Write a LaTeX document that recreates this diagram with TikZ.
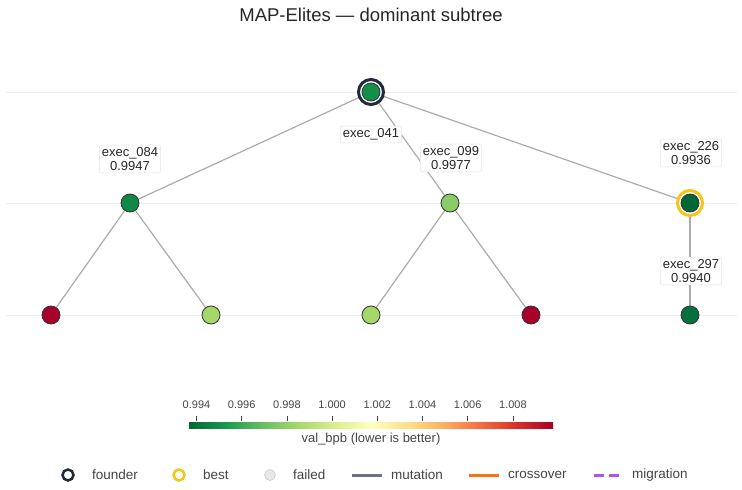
\documentclass[tikz,border=0pt]{standalone}
\usepackage{fontspec}
\setmainfont{Liberation Sans}
\definecolor{c0}{HTML}{006837}
\definecolor{c1}{HTML}{1A9850}
\definecolor{c2}{HTML}{66BD63}
\definecolor{c3}{HTML}{A6D96A}
\definecolor{c4}{HTML}{D9EF8B}
\definecolor{c5}{HTML}{FFFFBF}
\definecolor{c6}{HTML}{FEE08B}
\definecolor{c7}{HTML}{FDAE61}
\definecolor{c8}{HTML}{F46D43}
\definecolor{c9}{HTML}{D73027}
\definecolor{c10}{HTML}{A50026}
\definecolor{txt}{HTML}{444444}
\definecolor{navy}{HTML}{1E2A3A}
\definecolor{gold}{HTML}{F5C518}
\definecolor{edgec}{HTML}{ABABAB}
\definecolor{gridc}{HTML}{EEEEEE}
\definecolor{boxc}{HTML}{E3E3E3}
\definecolor{mutc}{HTML}{6B7280}
\definecolor{crossc}{HTML}{F97316}
\definecolor{migc}{HTML}{A855F7}
\definecolor{failc}{HTML}{E8E8E8}
\definecolor{nA}{HTML}{148F4A}
\definecolor{nB}{HTML}{0F8A46}
\definecolor{nC}{HTML}{8ACD66}
\definecolor{nD}{HTML}{006837}
\definecolor{nE}{HTML}{05703B}
\definecolor{nR}{HTML}{A8022A}
\definecolor{nL}{HTML}{A4D86A}
\pgfdeclarehorizontalshading{rdylgn}{100bp}{color(0bp)=(c0); color(25bp)=(c0); color(30bp)=(c1); color(35bp)=(c2); color(40bp)=(c3); color(45bp)=(c4); color(50bp)=(c5); color(55bp)=(c6); color(60bp)=(c7); color(65bp)=(c8); color(70bp)=(c9); color(75bp)=(c10); color(100bp)=(c10)}
\tikzset{
  tnode/.style={circle, draw=black!80, line width=0.8pt, minimum size=18pt, inner sep=0pt},
  ring/.style={circle, line width=3pt, minimum size=25pt, inner sep=0pt, fill=white},
  lbl/.style={draw=boxc, fill=white, rounded corners=2pt, text=black!85, font=\fontsize{13}{13.5}\selectfont, align=center, inner sep=2.5pt},
  link/.style={draw=edgec, line width=1.2pt},
  gridline/.style={draw=gridc, line width=1pt},
  legtxt/.style={text=txt, font=\fontsize{13.5}{14}\selectfont, anchor=west, inner sep=0pt},
  ticktxt/.style={text=txt, font=\fontsize{11}{12}\selectfont, inner sep=0pt}
}
\begin{document}
\begin{tikzpicture}[x=1pt,y=-1pt]
\useasboundingbox (0,0) rectangle (742,490);
% title
\node[text=black!85, font=\fontsize{18.5}{20}\selectfont] (title) at (371,15) {MAP-Elites — dominant subtree};
% grid lines
\foreach \yy in {92,203,315} \draw[gridline] (6,\yy) -- (737,\yy);
% node positions
\coordinate (p041) at (371,92);
\coordinate (p084) at (130,203);
\coordinate (p099) at (450,203);
\coordinate (p226) at (690,203);
\coordinate (l1) at (51,315);
\coordinate (l2) at (211,315);
\coordinate (l3) at (371,315);
\coordinate (l4) at (531,315);
\coordinate (p297) at (690,315);
% edges
\draw[link] (p041) -- (p084);
\draw[link] (p041) -- (p099);
\draw[link] (p041) -- (p226);
\draw[link] (p084) -- (l1);
\draw[link] (p084) -- (l2);
\draw[link] (p099) -- (l3);
\draw[link] (p099) -- (l4);
\draw[link] (p226) -- (p297);
% rings
\node[ring, draw=navy] (r041) at (p041) {};
\node[ring, draw=gold] (r226) at (p226) {};
% nodes
\node[tnode, fill=nA] (n041) at (p041) {};
\node[tnode, fill=nB] (n084) at (p084) {};
\node[tnode, fill=nC] (n099) at (p099) {};
\node[tnode, fill=nD] (n226) at (p226) {};
\node[tnode, fill=nR] (n1) at (l1) {};
\node[tnode, fill=nL] (n2) at (l2) {};
\node[tnode, fill=nL] (n3) at (l3) {};
\node[tnode, fill=nR] (n4) at (l4) {};
\node[tnode, fill=nE] (n297) at (p297) {};
% labels
\node[lbl] (t041) at (371,134.5) {exec\_041};
\node[lbl] (t084) at (130,159) {exec\_084\\0.9947};
\node[lbl] (t099) at (451,158) {exec\_099\\0.9977};
\node[lbl] (t226) at (691,153) {exec\_226\\0.9936};
\node[lbl] (t297) at (691,271) {exec\_297\\0.9940};
% colorbar
\path[shading=rdylgn] (189,422) rectangle (553,428);
\foreach \xx/\tl in {196.5/0.994,241.7/0.996,286.9/0.998,332.1/1.000,377.3/1.002,422.5/1.004,467.7/1.006,512.9/1.008} {
  \draw[txt, line width=0.8pt] (\xx,416) -- (\xx,421);
  \node[ticktxt] at (\xx,405) {\tl};
}
\node[text=txt, font=\fontsize{13}{14}\selectfont, inner sep=0pt] (cbt) at (371,439) {val\_bpb (lower is better)};
% legend
\node[circle, draw=navy, line width=2.5pt, minimum size=11pt, inner sep=0pt] (lgf) at (68,475) {};
\node[legtxt] (lgft) at (92,475) {founder};
\node[circle, draw=gold, line width=2.5pt, minimum size=11pt, inner sep=0pt] (lgb) at (179,475) {};
\node[legtxt] (lgbt) at (203,475) {best};
\node[circle, draw=black!20, fill=failc, line width=0.6pt, minimum size=11pt, inner sep=0pt] (lgx) at (270,475) {};
\node[legtxt] (lgxt) at (293,475) {failed};
\coordinate (m1) at (352,475); \coordinate (m2) at (382,475);
\draw[mutc, line width=3pt] (m1) -- (m2);
\node[legtxt] (lgmt) at (391,475) {mutation};
\coordinate (c1a) at (469,475); \coordinate (c2a) at (499,475);
\draw[crossc, line width=3pt] (c1a) -- (c2a);
\node[legtxt] (lgct) at (508,475) {crossover};
\coordinate (g1) at (594,475); \coordinate (g2) at (619,475);
\draw[migc, line width=3pt, dash pattern=on 10pt off 5pt] (g1) -- (g2);
\node[legtxt] (lggt) at (632,475) {migration};
\end{tikzpicture}
\end{document}
